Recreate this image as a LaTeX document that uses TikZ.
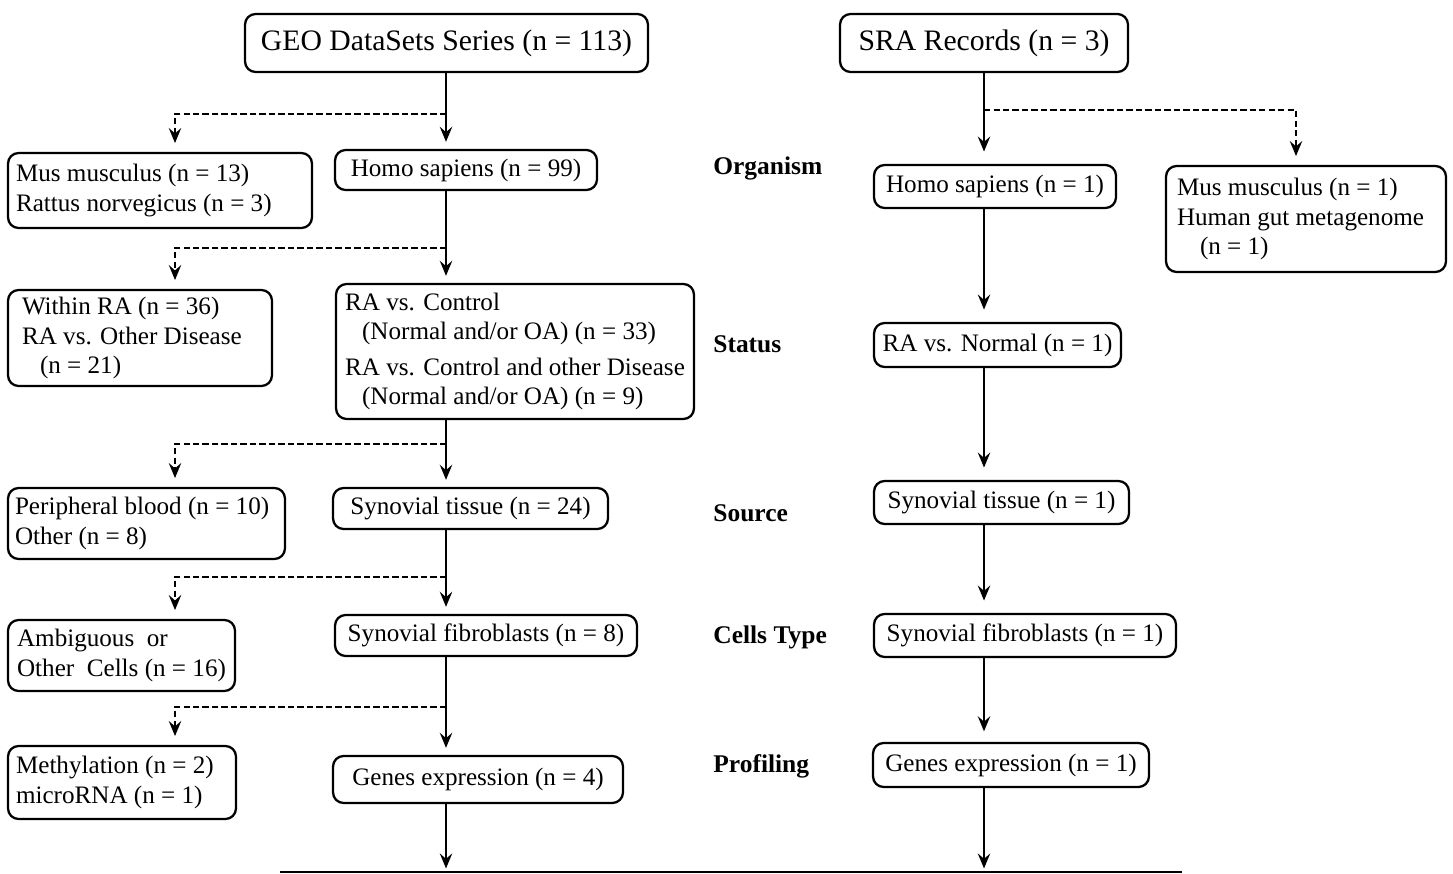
\documentclass[tikz,border=0pt]{standalone}
\usepackage{fontspec}
\setmainfont{Liberation Serif}
\usetikzlibrary{arrows.meta,positioning}

\begin{document}
\begin{tikzpicture}[
    x=0.02cm, y=-0.02cm,
    box/.style={draw, rounded corners=6pt, line width=1.3pt, inner sep=0pt, align=center, font=\fontsize{14.3}{17}\selectfont},
    head/.style={box, font=\fontsize{16.9}{20}\selectfont},
    side/.style={box, align=left},
    sidew/.style={box, align=flush left, text width=#1},
    lab/.style={anchor=west, inner sep=0pt, font=\fontsize{14.5}{17}\selectfont\bfseries},
    arrow/.style={-{Stealth[length=8.5pt,width=7pt,inset=3pt]}, line width=1.6pt, shorten >=4pt},
    dasharrow/.style={arrow, dash pattern=on 3.6pt off 1.8pt, line width=1.4pt, shorten >=5pt}
]
    \useasboundingbox (0,0) rectangle (1453,874);

    % GEO column
    \node[head, minimum width=8.06cm, minimum height=1.16cm] (geo) at (446.5,43) {GEO DataSets Series (n = 113)};
    \node[box, minimum width=5.24cm, minimum height=0.8cm] (hs) at (466,170) {Homo sapiens (n = 99)};
    \node[sidew=5.76cm, minimum width=6.08cm, minimum height=1.5cm] (mm) at (160,190.5) {Mus musculus (n = 13)\\Rattus norvegicus (n = 3)};
    \node[side, minimum width=7.16cm, minimum height=2.7cm] (rac) at (515,351.5) {
        RA vs. Control\\
        \hspace*{0.34cm}(Normal and/or OA) (n = 33)\\[3pt]
        RA vs. Control and other Disease\\
        \hspace*{0.34cm}(Normal and/or OA) (n = 9)
    };
    \node[sidew=4.72cm, minimum width=5.28cm, minimum height=1.92cm] (wra) at (140,338) {Within RA (n = 36)\\RA vs. Other Disease\\\hspace*{0.36cm}(n = 21)};
    \node[box, minimum width=5.5cm, minimum height=0.82cm] (st) at (470.5,508.5) {Synovial tissue (n = 24)};
    \node[sidew=5.26cm, minimum width=5.54cm, minimum height=1.42cm] (pb) at (146.5,523.5) {Peripheral blood (n = 10)\\Other (n = 8)};
    \node[box, minimum width=6.04cm, minimum height=0.82cm] (sf) at (486,635.5) {Synovial fibroblasts (n = 8)};
    \node[side, minimum width=4.54cm, minimum height=1.42cm] (amb) at (121.5,655.5) {Ambiguous\ \ or\\Other\ \ Cells (n = 16)};
    \node[box, minimum width=5.8cm, minimum height=0.94cm] (ge) at (478,779.5) {Genes expression (n = 4)};
    \node[sidew=4.24cm, minimum width=4.56cm, minimum height=1.46cm] (meth) at (122,782.5) {Methylation (n = 2)\\microRNA (n = 1)};

    % SRA column
    \node[head, minimum width=5.76cm, minimum height=1.16cm] (sra) at (984,43) {SRA Records (n = 3)};
    \node[box, minimum width=4.84cm, minimum height=0.86cm] (rhs) at (995,186.5) {Homo sapiens (n = 1)};
    \node[sidew=5.16cm, minimum width=5.6cm, minimum height=2.12cm] (rmm) at (1306,219) {Mus musculus (n = 1)\\Human gut metagenome\\\hspace*{0.46cm}(n = 1)};
    \node[box, minimum width=4.94cm, minimum height=0.88cm] (rnorm) at (997.5,345) {RA vs. Normal (n = 1)};
    \node[box, minimum width=5.1cm, minimum height=0.86cm] (rst) at (1001.5,502.5) {Synovial tissue (n = 1)};
    \node[box, minimum width=6.04cm, minimum height=0.86cm] (rsf) at (1025,635.5) {Synovial fibroblasts (n = 1)};
    \node[box, minimum width=5.52cm, minimum height=0.88cm] (rge) at (1011,765) {Genes expression (n = 1)};

    % level labels
    \node[lab] (lorg) at (713,168) {Organism};
    \node[lab] (lstat) at (713,344) {Status};
    \node[lab] (lsrc) at (713,513) {Source};
    \node[lab] (lcell) at (713,637) {Cells Type};
    \node[lab] (lprof) at (713,766) {Profiling};

    % columns and split points
    \coordinate (mainL) at (446,0);
    \coordinate (mainR) at (984,0);
    \coordinate (sideL) at (175,0);
    \coordinate (sideR) at (1296,0);
    \coordinate (splitA) at (446,114);
    \coordinate (splitB) at (446,248);
    \coordinate (splitC) at (446,444);
    \coordinate (splitD) at (446,577);
    \coordinate (splitE) at (446,707);
    \coordinate (splitR) at (984,110);
    \coordinate (baseL) at (280,872);
    \coordinate (baseR) at (1182,872);

    \draw[arrow] (geo.south -| mainL) -- (hs.north -| mainL);
    \draw[arrow] (hs.south -| mainL) -- (rac.north -| mainL);
    \draw[arrow] (rac.south -| mainL) -- (st.north -| mainL);
    \draw[arrow] (st.south -| mainL) -- (sf.north -| mainL);
    \draw[arrow] (sf.south -| mainL) -- (ge.north -| mainL);
    \draw[arrow, shorten >=2pt] (ge.south -| mainL) -- (baseL -| mainL);

    \draw[dasharrow] (splitA) -| (mm.north -| sideL);
    \draw[dasharrow] (splitB) -| (wra.north -| sideL);
    \draw[dasharrow] (splitC) -| (pb.north -| sideL);
    \draw[dasharrow] (splitD) -| (amb.north -| sideL);
    \draw[dasharrow] (splitE) -| (meth.north -| sideL);

    \draw[arrow, shorten >=7pt] (sra.south -| mainR) -- (rhs.north -| mainR);
    \draw[arrow, shorten >=7pt] (rhs.south -| mainR) -- (rnorm.north -| mainR);
    \draw[arrow, shorten >=7pt] (rnorm.south -| mainR) -- (rst.north -| mainR);
    \draw[arrow, shorten >=7pt] (rst.south -| mainR) -- (rsf.north -| mainR);
    \draw[arrow, shorten >=6pt] (rsf.south -| mainR) -- (rge.north -| mainR);
    \draw[arrow, shorten >=2pt] (rge.south -| mainR) -- (baseL -| mainR);

    \draw[dasharrow] (splitR) -| (rmm.north -| sideR);

    \draw[line width=1.2pt] (baseL) -- (baseR);
\end{tikzpicture}
\end{document}
